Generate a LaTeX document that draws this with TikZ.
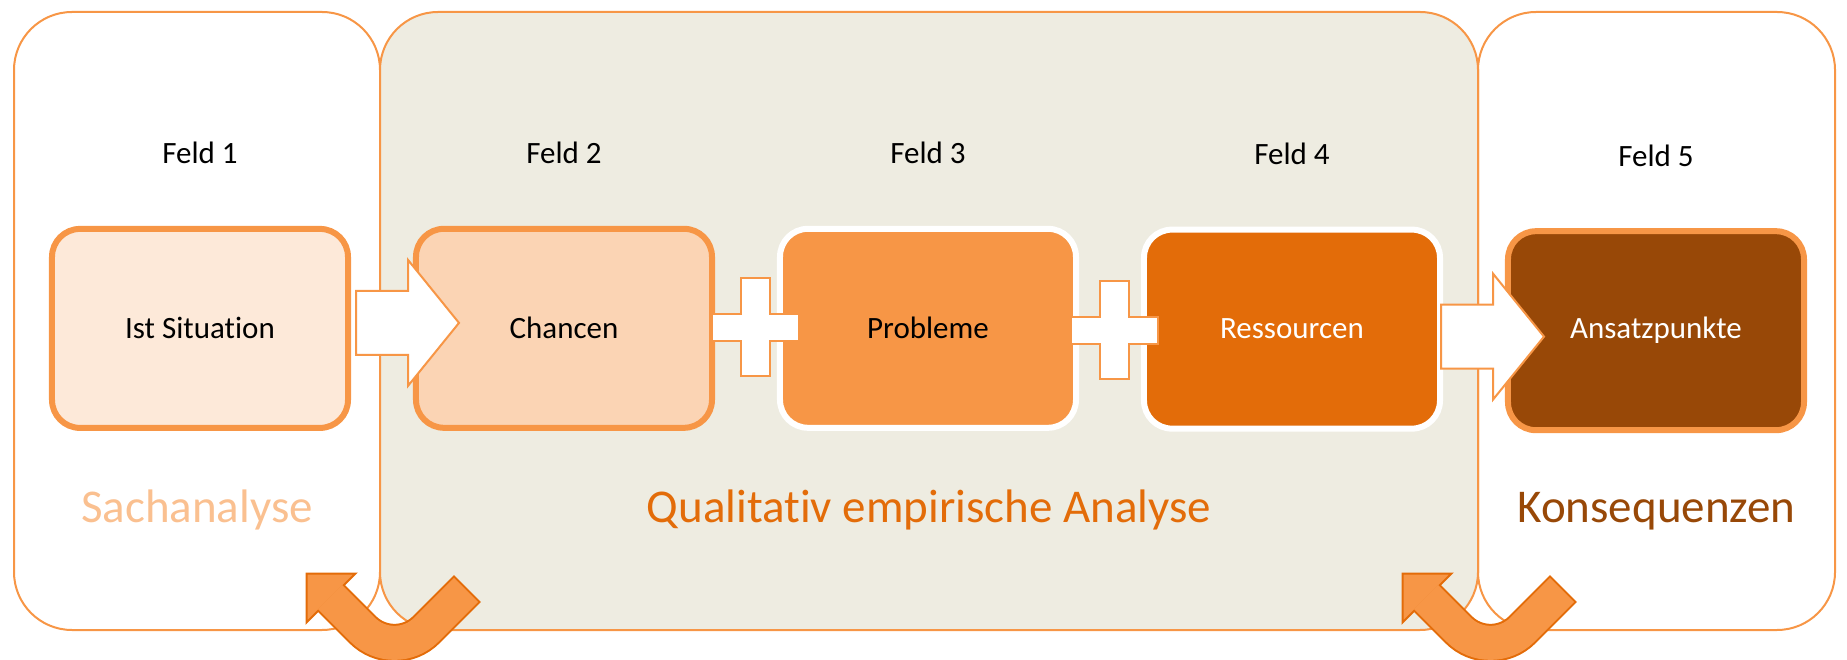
\documentclass[tikz,border=0pt]{standalone}
\usepackage{fontspec}
\setmainfont{Carlito}[Ligatures=NoCommon]
\usepackage{tikz}
\usetikzlibrary{positioning,matrix,arrows.meta}

\definecolor{akzent}{HTML}{F79646}
\definecolor{akzenthell}{HTML}{FDE9D9}
\definecolor{akzentmittel}{HTML}{FBD4B4}
\definecolor{akzentdunkel}{HTML}{E36C09}
\definecolor{akzentbraun}{HTML}{984807}
\definecolor{akzentpastell}{HTML}{FAC090}
\definecolor{papier}{HTML}{EEECE1}

\tikzset{
  panel/.style={draw=akzent, line width=2pt, rounded corners=58pt, minimum height=618pt, inner sep=0pt, outer sep=0pt},
  feldbox/.style={draw=akzent, line width=6pt, rounded corners=28pt, minimum width=296pt, minimum height=199pt, font=\fontsize{31}{37}\selectfont},
  feldtitel/.style={font=\fontsize{31}{37}\selectfont, anchor=base},
  bereich/.style={font=\fontsize{47}{56}\selectfont, anchor=base},
  weiss/.style={fill=white, draw=akzent, line width=2pt, line join=miter},
  pics/blockpfeil/.style={code={
      \draw[weiss] (0,-32) -- (52,-32) -- (52,-63) -- (103,0) -- (52,63) -- (52,32) -- (0,32) -- cycle;}},
  pics/plus/.style={code={
      \draw[weiss] (-14.5,49) -- (14.5,49) -- (14.5,13.5) -- (43.5,13.5) -- (43.5,-13.5) -- (14.5,-13.5)
        -- (14.5,-49) -- (-14.5,-49) -- (-14.5,-13.5) -- (-43.5,-13.5) -- (-43.5,13.5) -- (-14.5,13.5) -- cycle;}},
  pics/kehrpfeil/.style={code={
      \draw[akzentdunkel, line width=38pt, rounded corners=45pt] (-63.5,63.5) -- (0,0) -- (72.9,72.9);
      \draw[fill=akzent, draw=akzentdunkel, line width=2pt, line join=miter] (-88,88) -- (-39,88) -- (-88,39) -- cycle;
      \draw[akzent, line width=34pt, rounded corners=45pt] (-64.5,64.5) -- (0,0) -- (71.5,71.5);}}
}

\begin{document}
\begin{tikzpicture}[x=1pt, y=1pt]
    \useasboundingbox (0,0) rectangle (1847,659);
    \node[panel, minimum width=366pt] (p1) at (197,338) {};
    \node[panel, fill=papier, minimum width=1098pt] (p2) at (929,338) {};
    \node[panel, minimum width=357pt] (p3) at (1656.5,338) {};

    \matrix (F) [matrix of nodes, nodes={feldbox}, column sep=62pt] at (928,329.5) {
        |[fill=akzenthell]| Ist Situation & |[fill=akzentmittel]| Chancen & |[fill=akzent, draw=white]| Probleme & |[fill=akzentdunkel, draw=white, text=white]| Ressourcen & |[fill=akzentbraun, text=white]| Ansatzpunkte \\};
    \foreach \i in {1,...,5}
        \node[feldtitel] (titel\i) at ([yshift=62pt]F-1-\i.north) {Feld \i};

    \pic at ([xshift=5pt, yshift=5.5pt]F-1-1.east) {blockpfeil};
    \pic at ([xshift=-2pt, yshift=-7.5pt]F-1-4.east) {blockpfeil};
    \pic at ([xshift=40.5pt, yshift=1pt]F-1-2.east) {plus};
    \pic at ([xshift=35.5pt, yshift=-2pt]F-1-3.east) {plus};

    \node[bereich, text=akzentpastell] (sach) at ([yshift=108pt]p1.south) {Sachanalyse};
    \node[bereich, text=akzentdunkel] (quali) at ([yshift=108pt]p2.south) {Qualitativ empirische Analyse};
    \node[bereich, text=akzentbraun] (konseq) at ([yshift=108pt]p3.south) {Konsequenzen};

    \pic at (394.5,-2.5) {kehrpfeil};
    \pic at (1490.5,-2.5) {kehrpfeil};
\end{tikzpicture}
\end{document}
